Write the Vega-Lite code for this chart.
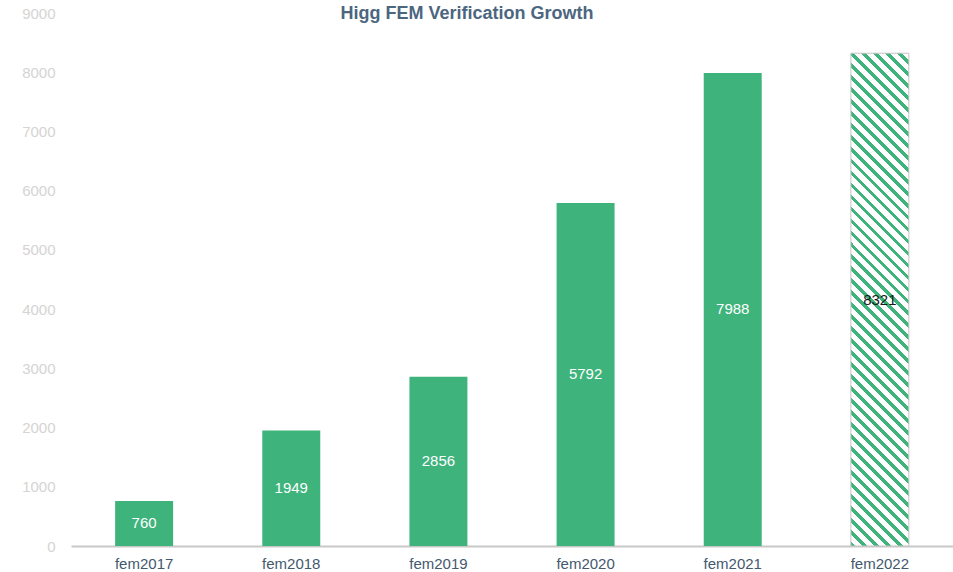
{
  "$schema": "https://vega.github.io/schema/vega-lite/v6.json",
  "width": 882,
  "height": 533,
  "autosize": {"type": "none"},
  "padding": {"left": 71, "top": 13, "right": 0, "bottom": 26},
  "title": {"text": "Higg FEM Verification Growth", "frame": "group", "anchor": "middle", "dx": -45, "offset": -31, "baseline": "alphabetic", "font": "Liberation Sans", "fontSize": 18, "fontWeight": "bold", "color": "#4c6680"},
  "config": {"view": {"stroke": null}},
  "data": {"values": [
    {"year": "fem2017", "value": 760, "kind": "actual"},
    {"year": "fem2018", "value": 1949, "kind": "actual"},
    {"year": "fem2019", "value": 2856, "kind": "actual"},
    {"year": "fem2020", "value": 5792, "kind": "actual"},
    {"year": "fem2021", "value": 7988, "kind": "actual"},
    {"year": "fem2022", "value": 8321, "kind": "projected"}
  ]},
  "encoding": {
    "x": {"field": "year", "type": "nominal", "scale": {"paddingInner": 0.606, "paddingOuter": 0.3},
      "axis": {"title": null, "labelAngle": 0, "ticks": false, "domainColor": "#c8c8c8", "domainWidth": 2, "labelColor": "#44596e", "labelFontSize": 15, "labelFont": "Liberation Sans", "labelPadding": 10}},
    "y": {"field": "value", "type": "quantitative", "scale": {"domain": [0, 9000], "nice": false},
      "axis": {"title": null, "format": "d", "values": [0, 1000, 2000, 3000, 4000, 5000, 6000, 7000, 8000, 9000], "domain": false, "ticks": false, "grid": false, "labelColor": "#d4d4d4", "labelFontSize": 15, "labelFont": "Liberation Sans", "labelPadding": 16}}
  },
  "layer": [
    {
      "transform": [{"filter": "datum.kind === 'actual'"}],
      "mark": {"type": "bar", "color": "#3eb37c"}
    },
    {
      "transform": [{"filter": "datum.kind === 'projected'"}],
      "mark": {"type": "bar", "stroke": "#c4c4c4", "strokeWidth": 1,
        "fill": {"gradient": "linear", "x1": 0, "y1": 1, "x2": 0.12974, "y2": -0.1024, "stops": [
{"offset":0,"color":"#3eb37c"},{"offset":0.0087,"color":"#3eb37c"},{"offset":0.0087,"color":"#fff"},{"offset":0.02174,"color":"#fff"},
{"offset":0.02174,"color":"#3eb37c"},{"offset":0.03043,"color":"#3eb37c"},{"offset":0.03043,"color":"#fff"},{"offset":0.04348,"color":"#fff"},
{"offset":0.04348,"color":"#3eb37c"},{"offset":0.05217,"color":"#3eb37c"},{"offset":0.05217,"color":"#fff"},{"offset":0.06522,"color":"#fff"},
{"offset":0.06522,"color":"#3eb37c"},{"offset":0.07391,"color":"#3eb37c"},{"offset":0.07391,"color":"#fff"},{"offset":0.08696,"color":"#fff"},
{"offset":0.08696,"color":"#3eb37c"},{"offset":0.09565,"color":"#3eb37c"},{"offset":0.09565,"color":"#fff"},{"offset":0.1087,"color":"#fff"},
{"offset":0.1087,"color":"#3eb37c"},{"offset":0.11739,"color":"#3eb37c"},{"offset":0.11739,"color":"#fff"},{"offset":0.13043,"color":"#fff"},
{"offset":0.13043,"color":"#3eb37c"},{"offset":0.13913,"color":"#3eb37c"},{"offset":0.13913,"color":"#fff"},{"offset":0.15217,"color":"#fff"},
{"offset":0.15217,"color":"#3eb37c"},{"offset":0.16087,"color":"#3eb37c"},{"offset":0.16087,"color":"#fff"},{"offset":0.17391,"color":"#fff"},
{"offset":0.17391,"color":"#3eb37c"},{"offset":0.18261,"color":"#3eb37c"},{"offset":0.18261,"color":"#fff"},{"offset":0.19565,"color":"#fff"},
{"offset":0.19565,"color":"#3eb37c"},{"offset":0.20435,"color":"#3eb37c"},{"offset":0.20435,"color":"#fff"},{"offset":0.21739,"color":"#fff"},
{"offset":0.21739,"color":"#3eb37c"},{"offset":0.22609,"color":"#3eb37c"},{"offset":0.22609,"color":"#fff"},{"offset":0.23913,"color":"#fff"},
{"offset":0.23913,"color":"#3eb37c"},{"offset":0.24783,"color":"#3eb37c"},{"offset":0.24783,"color":"#fff"},{"offset":0.26087,"color":"#fff"},
{"offset":0.26087,"color":"#3eb37c"},{"offset":0.26957,"color":"#3eb37c"},{"offset":0.26957,"color":"#fff"},{"offset":0.28261,"color":"#fff"},
{"offset":0.28261,"color":"#3eb37c"},{"offset":0.2913,"color":"#3eb37c"},{"offset":0.2913,"color":"#fff"},{"offset":0.30435,"color":"#fff"},
{"offset":0.30435,"color":"#3eb37c"},{"offset":0.31304,"color":"#3eb37c"},{"offset":0.31304,"color":"#fff"},{"offset":0.32609,"color":"#fff"},
{"offset":0.32609,"color":"#3eb37c"},{"offset":0.33478,"color":"#3eb37c"},{"offset":0.33478,"color":"#fff"},{"offset":0.34783,"color":"#fff"},
{"offset":0.34783,"color":"#3eb37c"},{"offset":0.35652,"color":"#3eb37c"},{"offset":0.35652,"color":"#fff"},{"offset":0.36957,"color":"#fff"},
{"offset":0.36957,"color":"#3eb37c"},{"offset":0.37826,"color":"#3eb37c"},{"offset":0.37826,"color":"#fff"},{"offset":0.3913,"color":"#fff"},
{"offset":0.3913,"color":"#3eb37c"},{"offset":0.4,"color":"#3eb37c"},{"offset":0.4,"color":"#fff"},{"offset":0.41304,"color":"#fff"},
{"offset":0.41304,"color":"#3eb37c"},{"offset":0.42174,"color":"#3eb37c"},{"offset":0.42174,"color":"#fff"},{"offset":0.43478,"color":"#fff"},
{"offset":0.43478,"color":"#3eb37c"},{"offset":0.44348,"color":"#3eb37c"},{"offset":0.44348,"color":"#fff"},{"offset":0.45652,"color":"#fff"},
{"offset":0.45652,"color":"#3eb37c"},{"offset":0.46522,"color":"#3eb37c"},{"offset":0.46522,"color":"#fff"},{"offset":0.47826,"color":"#fff"},
{"offset":0.47826,"color":"#3eb37c"},{"offset":0.48696,"color":"#3eb37c"},{"offset":0.48696,"color":"#fff"},{"offset":0.5,"color":"#fff"},
{"offset":0.5,"color":"#3eb37c"},{"offset":0.5087,"color":"#3eb37c"},{"offset":0.5087,"color":"#fff"},{"offset":0.52174,"color":"#fff"},
{"offset":0.52174,"color":"#3eb37c"},{"offset":0.53043,"color":"#3eb37c"},{"offset":0.53043,"color":"#fff"},{"offset":0.54348,"color":"#fff"},
{"offset":0.54348,"color":"#3eb37c"},{"offset":0.55217,"color":"#3eb37c"},{"offset":0.55217,"color":"#fff"},{"offset":0.56522,"color":"#fff"},
{"offset":0.56522,"color":"#3eb37c"},{"offset":0.57391,"color":"#3eb37c"},{"offset":0.57391,"color":"#fff"},{"offset":0.58696,"color":"#fff"},
{"offset":0.58696,"color":"#3eb37c"},{"offset":0.59565,"color":"#3eb37c"},{"offset":0.59565,"color":"#fff"},{"offset":0.6087,"color":"#fff"},
{"offset":0.6087,"color":"#3eb37c"},{"offset":0.61739,"color":"#3eb37c"},{"offset":0.61739,"color":"#fff"},{"offset":0.63043,"color":"#fff"},
{"offset":0.63043,"color":"#3eb37c"},{"offset":0.63913,"color":"#3eb37c"},{"offset":0.63913,"color":"#fff"},{"offset":0.65217,"color":"#fff"},
{"offset":0.65217,"color":"#3eb37c"},{"offset":0.66087,"color":"#3eb37c"},{"offset":0.66087,"color":"#fff"},{"offset":0.67391,"color":"#fff"},
{"offset":0.67391,"color":"#3eb37c"},{"offset":0.68261,"color":"#3eb37c"},{"offset":0.68261,"color":"#fff"},{"offset":0.69565,"color":"#fff"},
{"offset":0.69565,"color":"#3eb37c"},{"offset":0.70435,"color":"#3eb37c"},{"offset":0.70435,"color":"#fff"},{"offset":0.71739,"color":"#fff"},
{"offset":0.71739,"color":"#3eb37c"},{"offset":0.72609,"color":"#3eb37c"},{"offset":0.72609,"color":"#fff"},{"offset":0.73913,"color":"#fff"},
{"offset":0.73913,"color":"#3eb37c"},{"offset":0.74783,"color":"#3eb37c"},{"offset":0.74783,"color":"#fff"},{"offset":0.76087,"color":"#fff"},
{"offset":0.76087,"color":"#3eb37c"},{"offset":0.76957,"color":"#3eb37c"},{"offset":0.76957,"color":"#fff"},{"offset":0.78261,"color":"#fff"},
{"offset":0.78261,"color":"#3eb37c"},{"offset":0.7913,"color":"#3eb37c"},{"offset":0.7913,"color":"#fff"},{"offset":0.80435,"color":"#fff"},
{"offset":0.80435,"color":"#3eb37c"},{"offset":0.81304,"color":"#3eb37c"},{"offset":0.81304,"color":"#fff"},{"offset":0.82609,"color":"#fff"},
{"offset":0.82609,"color":"#3eb37c"},{"offset":0.83478,"color":"#3eb37c"},{"offset":0.83478,"color":"#fff"},{"offset":0.84783,"color":"#fff"},
{"offset":0.84783,"color":"#3eb37c"},{"offset":0.85652,"color":"#3eb37c"},{"offset":0.85652,"color":"#fff"},{"offset":0.86957,"color":"#fff"},
{"offset":0.86957,"color":"#3eb37c"},{"offset":0.87826,"color":"#3eb37c"},{"offset":0.87826,"color":"#fff"},{"offset":0.8913,"color":"#fff"},
{"offset":0.8913,"color":"#3eb37c"},{"offset":0.9,"color":"#3eb37c"},{"offset":0.9,"color":"#fff"},{"offset":0.91304,"color":"#fff"},
{"offset":0.91304,"color":"#3eb37c"},{"offset":0.92174,"color":"#3eb37c"},{"offset":0.92174,"color":"#fff"},{"offset":0.93478,"color":"#fff"},
{"offset":0.93478,"color":"#3eb37c"},{"offset":0.94348,"color":"#3eb37c"},{"offset":0.94348,"color":"#fff"},{"offset":0.95652,"color":"#fff"},
{"offset":0.95652,"color":"#3eb37c"},{"offset":0.96522,"color":"#3eb37c"},{"offset":0.96522,"color":"#fff"},{"offset":0.97826,"color":"#fff"},
{"offset":0.97826,"color":"#3eb37c"},{"offset":0.98696,"color":"#3eb37c"},{"offset":0.98696,"color":"#fff"},{"offset":1,"color":"#fff"}
        ]}}
    },
    {
      "transform": [{"calculate": "datum.value / 2", "as": "mid"}],
      "mark": {"type": "text", "font": "Liberation Sans", "fontSize": 15},
      "encoding": {
        "y": {"field": "mid", "type": "quantitative"},
        "text": {"field": "value", "type": "quantitative", "format": "d"},
        "color": {"condition": {"test": "datum.kind === 'projected'", "value": "#1a1a1a"}, "value": "#ffffff"}
      }
    }
  ]
}
